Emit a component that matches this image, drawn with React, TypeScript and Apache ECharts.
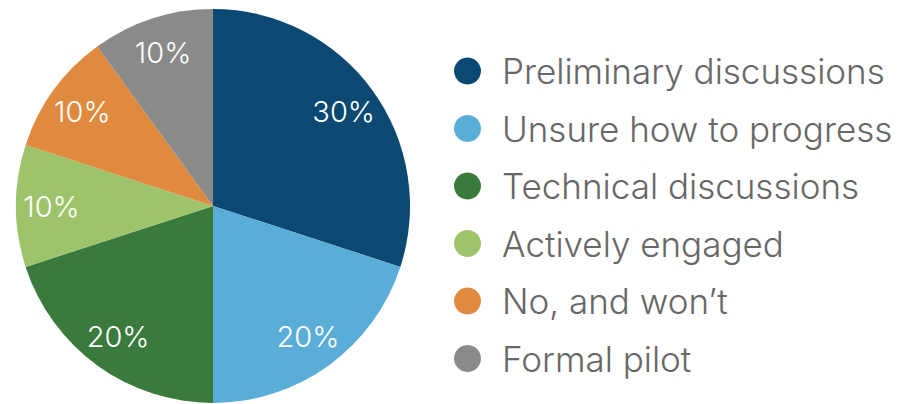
import React, { useEffect, useRef } from "react";
import * as echarts from "echarts";

const categories = [
  "Preliminary discussions",
  "Unsure how to progress",
  "Technical discussions",
  "Actively engaged",
  "No, and won\u2019t",
  "Formal pilot",
];
const values = [30, 20, 20, 10, 10, 10];
const colors = ["#0B4872", "#5AADD6", "#3A7A3D", "#9DC46B", "#E08A40", "#8A8A88"];

export default function App() {
  const ref = useRef<HTMLDivElement>(null);
  useEffect(() => {
    document.body.style.margin = "0";
    const chart = echarts.init(ref.current!, null, { renderer: "svg" });
    const data = categories.map((name, i) => ({
      name,
      value: values[i],
      itemStyle: { color: colors[i] },
    }));
    chart.setOption({
      animation: false,
      backgroundColor: "#ffffff",
      legend: {
        orient: "vertical",
        left: 449,
        top: 46,
        icon: "circle",
        itemWidth: 27,
        itemHeight: 27,
        itemGap: 17.5,
        selectedMode: false,
        data: categories,
        textStyle: {
          fontFamily: "Inter",
          fontWeight: 300,
          fontSize: 35,
          lineHeight: 40,
          color: "#676767",
          padding: [0, 0, 0, 16],
        },
      },
      series: [
        {
          type: "pie",
          center: [213, 206],
          radius: [0, 197],
          startAngle: 90,
          clockwise: true,
          silent: true,
          label: { show: false },
          labelLine: { show: false },
          data,
        },
        {
          type: "pie",
          center: [213, 206],
          radius: [120, 197],
          startAngle: 90,
          clockwise: true,
          silent: true,
          legendHoverLink: false,
          itemStyle: { color: "rgba(0,0,0,0)" },
          label: {
            show: true,
            position: "inside",
            formatter: "{c}%",
            color: "#ffffff",
            fontFamily: "Inter",
            fontWeight: 300,
            fontSize: 29,
          },
          labelLine: { show: false },
          data: categories.map((name, i) => ({ name: name + " ", value: values[i] })),
        },
      ],
    });
    return () => chart.dispose();
  }, []);
  return <div ref={ref} style={{ width: 917, height: 404 }} />;
}
